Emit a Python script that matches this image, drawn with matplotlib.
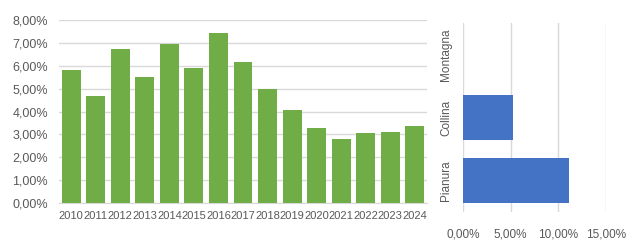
import matplotlib
matplotlib.use("Agg")
import matplotlib.pyplot as plt
from matplotlib.ticker import FuncFormatter

years = ["2010", "2011", "2012", "2013", "2014", "2015", "2016", "2017",
         "2018", "2019", "2020", "2021", "2022", "2023", "2024"]
year_values = [5.81, 4.68, 6.73, 5.51, 6.95, 5.90, 7.43, 6.16,
               4.98, 4.07, 3.28, 2.80, 3.06, 3.10, 3.37]

zones = ["Pianura", "Collina", "Montagna"]
zone_values = [11.12, 5.24, 0.0]

plt.rcParams['font.family'] = ['Liberation Sans', 'DejaVu Sans']
TXT = '#595959'
GRID = '#D9D9D9'

def pct(v, pos):
    return f"{v:.2f}%".replace('.', ',')

fig = plt.figure(figsize=(6.3, 2.4), dpi=100)

# Left chart
ax1 = fig.add_axes([59/630, 37/240, 368/630, 183/240])
x = range(len(years))
ax1.bar(x, year_values, width=0.77, color='#70AD47', zorder=3)
ax1.set_xlim(-0.5, len(years) - 0.5)
ax1.set_ylim(0, 8)
ax1.set_yticks(range(0, 9))
ax1.yaxis.set_major_formatter(FuncFormatter(pct))
ax1.set_xticks(list(x))
ax1.set_xticklabels(years)
ax1.grid(axis='y', color=GRID, linewidth=1.0, zorder=0)
for s in ['top', 'right', 'left']:
    ax1.spines[s].set_visible(False)
ax1.spines['bottom'].set_color(GRID)
ax1.tick_params(axis='both', length=0, colors=TXT)
ax1.tick_params(axis='x', pad=6, labelsize=8)
ax1.tick_params(axis='y', pad=8, labelsize=9)

# Right chart
ax2 = fig.add_axes([463/630, 28/240, 143/630, 189/240])
y = range(len(zones))
ax2.barh(y, zone_values, height=0.71, color='#4472C4', zorder=3)
ax2.set_xlim(0, 15)
ax2.set_ylim(-0.5, len(zones) - 0.5)
ax2.set_xticks([0, 5, 10, 15])
ax2.xaxis.set_major_formatter(FuncFormatter(pct))
ax2.set_yticks(list(y))
ax2.set_yticklabels(zones, rotation=90, va='center')
ax2.grid(axis='x', color=GRID, linewidth=1.0, zorder=0)
for s in ['top', 'right', 'left', 'bottom']:
    ax2.spines[s].set_visible(False)
ax2.tick_params(axis='both', length=0, colors=TXT, labelsize=8.5)
ax2.tick_params(axis='x', pad=12)
ax2.tick_params(axis='y', pad=8)

fig.savefig("out.png", dpi=100)
